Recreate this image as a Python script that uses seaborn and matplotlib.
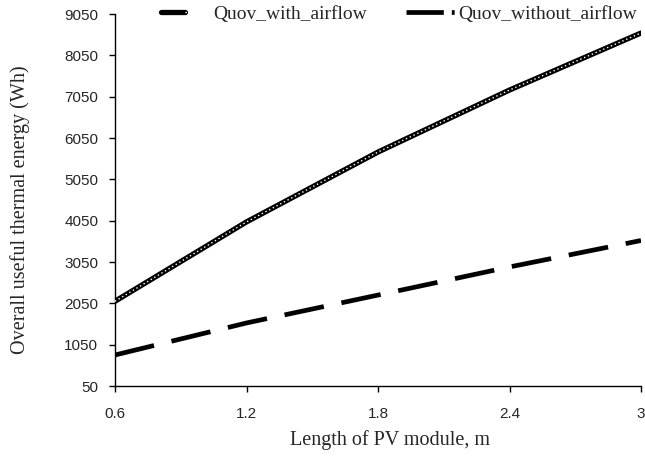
import matplotlib
matplotlib.use("Agg")
import matplotlib.pyplot as plt
import seaborn as sns
import pandas as pd
from matplotlib.lines import Line2D
from matplotlib.legend_handler import HandlerTuple

length_m = [0.6, 1.2, 1.8, 2.4, 3.0]
quov_with_airflow = [2100, 4020, 5710, 7210, 8590]
quov_without_airflow = [800, 1575, 2250, 2930, 3570]
y_ticks = [50, 1050, 2050, 3050, 4050, 5050, 6050, 7050, 8050, 9050]
x_ticks = [0.6, 1.2, 1.8, 2.4, 3.0]
x_tick_labels = ["0.6", "1.2", "1.8", "2.4", "3"]

df = pd.DataFrame({"L": length_m, "with": quov_with_airflow, "without": quov_without_airflow})

sns.set_style("white")
fig = plt.figure(figsize=(6.45, 4.61), dpi=100)
ax = fig.add_axes([115/645, 1-386/461, (641-115)/645, (386-14)/461])

LW_A = 3.8
LW_B = 3.4
dash_plot = (0, (8.5, 3.8))
dash_leg = (0, (7.9, 1.7, 0.6, 20))

# with airflow: black thick line + white dotted core
sns.lineplot(data=df, x="L", y="with", ax=ax, color="black", linewidth=LW_A, zorder=3)
sns.lineplot(data=df, x="L", y="with", ax=ax, color="white", linewidth=1.0, zorder=4,
             linestyle=(0, (1, 2)))
# without airflow: long dashes
sns.lineplot(data=df, x="L", y="without", ax=ax, color="black", linewidth=LW_B, zorder=3,
             linestyle=dash_plot)

ax.set_xlim(0.6, 3.0)
ax.set_ylim(50, 9050)
ax.set_xticks(x_ticks)
ax.set_xticklabels(x_tick_labels)
ax.set_yticks(y_ticks)
for lab in ax.get_xticklabels() + ax.get_yticklabels():
    lab.set_fontfamily("Liberation Sans")
    lab.set_fontsize(11)
ax.tick_params(axis="both", direction="out", length=4, width=1, color="black")
ax.tick_params(axis="x", pad=11)
ax.tick_params(axis="y", pad=8)
ax.xaxis.set_ticks_position("bottom")
ax.yaxis.set_ticks_position("left")
sns.despine(ax=ax)
for s in ["left", "bottom"]:
    ax.spines[s].set_color("black")
    ax.spines[s].set_linewidth(1)

ax.set_xlabel("Length of PV module, m", fontfamily="Liberation Serif", fontsize=14.5)
ax.set_ylabel("Overall useful thermal energy (Wh)", fontfamily="Liberation Serif", fontsize=14.5)
ax.xaxis.set_label_coords((390-115)/526, -54/372)
ax.xaxis.label.set_va("center")
ax.yaxis.set_label_coords((20-115)/526, (386-210)/372)
ax.yaxis.label.set_va("center")

h1 = (Line2D([], [], color="black", linewidth=LW_A),
      Line2D([], [], color="white", linewidth=1.0, linestyle=(0, (1, 2))))
h2 = Line2D([], [], color="black", linewidth=LW_B, linestyle=dash_leg)
fig.legend([h1, h2], ["Quov_with_airflow", "Quov_without_airflow"],
           handler_map={tuple: HandlerTuple(ndivide=None, pad=0)},
           loc="center", bbox_to_anchor=(399/645, 1-14/461), ncol=2, frameon=False,
           prop={"family": "Liberation Serif", "size": 14},
           handlelength=2.5, handletextpad=0.2, columnspacing=2.0, borderpad=0)

fig.savefig("out.png", dpi=100)
